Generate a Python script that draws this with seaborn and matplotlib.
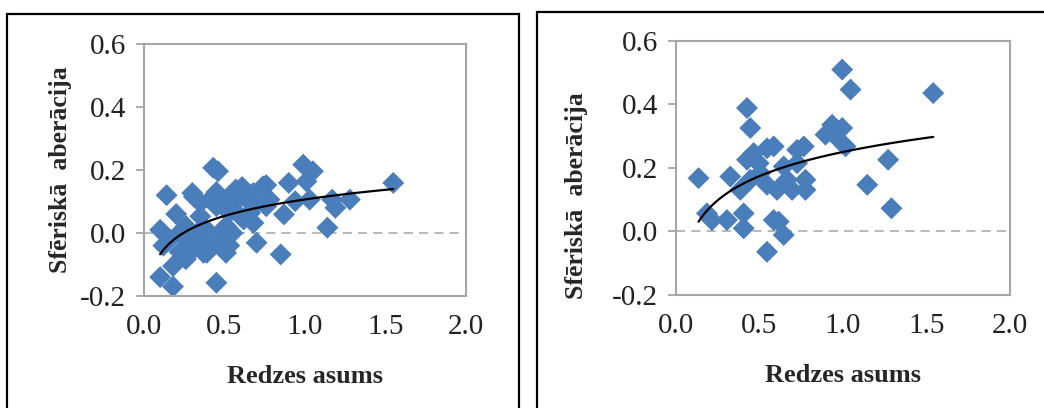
import matplotlib
matplotlib.use('Agg')
import matplotlib.pyplot as plt
from matplotlib.patches import Rectangle
import numpy as np
import pandas as pd
import seaborn as sns

# left panel: visual acuity vs spherical aberration
left_x = [0.10, 0.18, 0.10, 0.12, 0.14, 0.20, 0.18, 0.22, 0.26, 0.31,
          0.35, 0.37, 0.41, 0.43, 0.46, 0.45, 0.43, 0.53, 0.53, 0.57,
          0.60, 0.64, 0.68, 0.70, 0.74, 0.78, 0.85, 0.87, 0.90, 0.94,
          0.99, 1.05, 1.03, 1.14, 1.17, 1.19, 1.28, 1.55, 1.01, 0.26,
          0.33, 0.39, 0.47, 0.51, 0.55, 0.62, 0.45, 0.49, 0.35, 0.31,
          0.39, 0.47, 0.24, 0.55, 0.66, 0.70, 0.60, 0.53, 0.68, 0.76,
          0.35, 0.22, 0.16, 0.51, 0.26, 0.30, 0.45, 0.61, 0.76]
left_y = [-0.140, -0.170, 0.010, -0.040, 0.120, 0.060, -0.105, -0.060, -0.020, 0.115,
          0.053, -0.063, 0.106, 0.207, 0.196, -0.158, -0.040, -0.040, 0.064, 0.138,
          0.053, 0.106, 0.127, -0.031, 0.148, 0.106, -0.068, 0.059, 0.159, 0.101,
          0.217, 0.196, 0.106, 0.017, 0.106, 0.080, 0.106, 0.159, 0.164, 0.022,
          0.000, 0.010, 0.000, 0.022, 0.000, 0.043, 0.085, 0.106, -0.020, -0.050,
          -0.063, -0.020, 0.010, 0.096, 0.064, 0.096, 0.117, 0.117, 0.032, 0.085,
          0.096, 0.000, -0.020, -0.063, -0.083, 0.127, 0.130, 0.146, 0.152]

# right panel
right_x = [0.135, 0.185, 0.215, 0.305, 0.325, 0.385, 0.405, 0.405, 0.425, 0.425,
           0.445, 0.445, 0.465, 0.495, 0.545, 0.585, 0.545, 0.545, 0.585, 0.615,
           0.645, 0.605, 0.645, 0.665, 0.695, 0.725, 0.765, 0.775, 0.775, 0.725,
           0.895, 0.935, 0.995, 0.955, 1.015, 0.995, 1.045, 1.145, 1.270, 1.290,
           1.540, 0.505]
right_y = [0.168, 0.057, 0.036, 0.036, 0.173, 0.131, 0.057, 0.010, 0.226, 0.389,
           0.326, 0.163, 0.247, 0.215, 0.262, 0.268, 0.147, -0.064, 0.036, 0.031,
           -0.011, 0.131, 0.205, 0.163, 0.131, 0.257, 0.268, 0.163, 0.131, 0.215,
           0.305, 0.336, 0.326, 0.300, 0.268, 0.510, 0.447, 0.147, 0.226, 0.073,
           0.436, 0.184]

x_ticks = [0.0, 0.5, 1.0, 1.5, 2.0]
y_ticks = [-0.2, 0.0, 0.2, 0.4, 0.6]
x_label = 'Redzes asums'
y_label = 'Sfēriskā  aberācija'

sns.set_theme(style='white')
plt.rcParams['font.family'] = ['Liberation Serif', 'DejaVu Serif']

fig = plt.figure(figsize=(10.44, 4.08), dpi=100)
ax1 = fig.add_axes([0.138, 0.2745, 0.308, 0.6176])
ax2 = fig.add_axes([0.6475, 0.277, 0.32, 0.6225])

blue = '#4a7ebb'
grey = '#a6a6a6'

for ax, xs, ys in [(ax1, left_x, left_y), (ax2, right_x, right_y)]:
    df = pd.DataFrame({'x': xs, 'y': ys})
    ax.axhline(0, color=grey, lw=1.1, ls=(0, (6, 4)), zorder=1)
    sns.scatterplot(data=df, x='x', y='y', marker='D', s=125, color=blue,
                    edgecolor='none', ax=ax, zorder=2)
    # logarithmic trend line, like the Excel one
    sns.regplot(data=df, x='x', y='y', logx=True, scatter=False, ci=None,
                truncate=True, color='black', line_kws={'lw': 1.6, 'zorder': 3}, ax=ax)
    ax.set_xlim(0, 2.0)
    ax.set_ylim(-0.2, 0.6)
    ax.set_xticks(x_ticks)
    ax.set_yticks(y_ticks)
    ax.set_xticklabels([f'{v:.1f}' for v in x_ticks])
    ax.set_yticklabels([f'{v:.1f}' for v in y_ticks])
    for sp in ax.spines.values():
        sp.set_color(grey)
        sp.set_linewidth(1.5)
    ax.tick_params(axis='y', length=6, width=1.3, color=grey, direction='out',
                   labelsize=21, pad=7, left=True, labelcolor='#222222')
    ax.tick_params(axis='x', length=0, labelsize=21, pad=13, labelcolor='#222222')
    ax.set_xlabel(x_label, fontsize=19, fontweight='bold', labelpad=18)
    ax.set_ylabel(y_label, fontsize=18.5, fontweight='bold', labelpad=6)

# right chart's y title sits a bit lower and further out
ax2.yaxis.set_label_coords(-0.263, 0.39)

# the black frames around each chart
fig.add_artist(Rectangle((7 / 1044, -0.05), 512 / 1044, 1.05 - 14 / 408,
                         transform=fig.transFigure, fill=False, ec='black', lw=1.6))
fig.add_artist(Rectangle((537 / 1044, -0.05), 0.6, 1.05 - 12 / 408,
                         transform=fig.transFigure, fill=False, ec='black', lw=1.6))

fig.savefig('out.png', dpi=100)
